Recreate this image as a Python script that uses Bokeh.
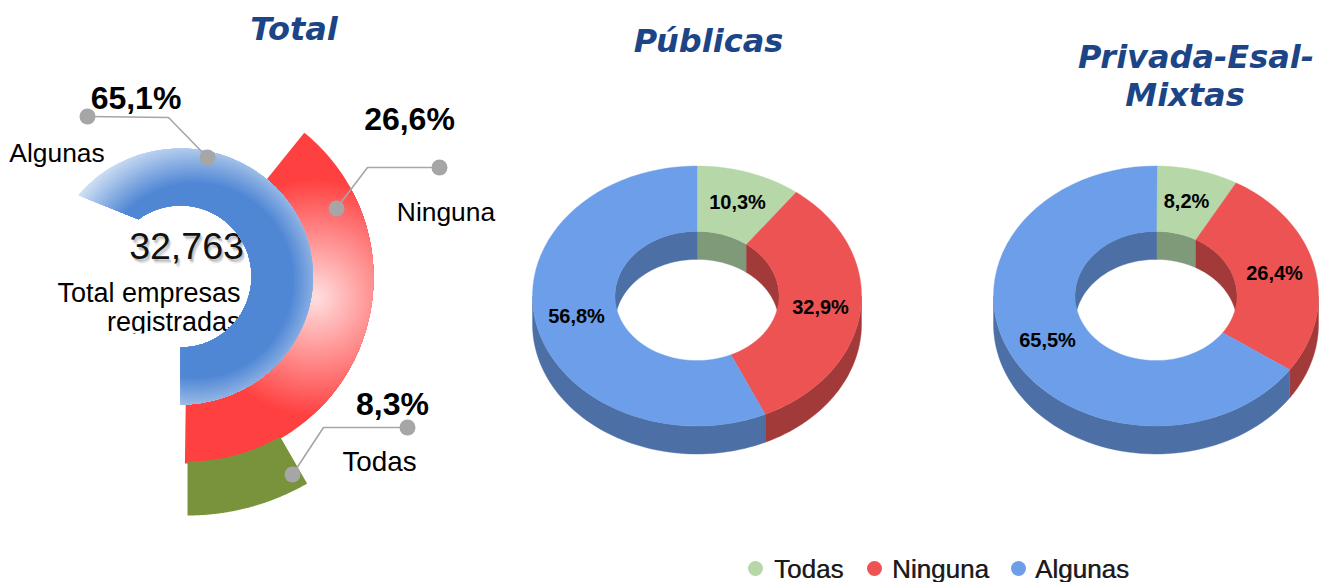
import math
from bokeh.plotting import figure
from bokeh.models import Range1d
from bokeh.core.properties import value
from bokeh.embed import file_html
from bokeh.resources import INLINE

# ---- data ----
total_categories = ["Algunas", "Ninguna", "Todas"]
total_values = [65.1, 26.6, 8.3]
total_labels = ["65,1%", "26,6%", "8,3%"]
total_sweep_pct = [65.1, 39.2, 8.3]   # arc length as drawn in the picture
total_count = "32,763"
total_caption = ["Total empresas", "registradas"]

donut_categories = ["Todas", "Ninguna", "Algunas"]
publicas_values = [10.3, 32.9, 56.8]
publicas_labels = ["10,3%", "32,9%", "56,8%"]
privadas_values = [8.2, 26.4, 65.5]
privadas_labels = ["8,2%", "26,4%", "65,5%"]

titles = ["Total", "Públicas", "Privada-Esal-", "Mixtas"]

# ---- page geometry (page pixels; y measured from the top) ----
W, H = 1325, 582
def Y(py):
    return H - py

p = figure(width=W, height=H, x_range=Range1d(0, W), y_range=Range1d(0, H),
           output_backend="svg", toolbar_location=None, min_border=0,
           outline_line_color=None, background_fill_color="white", border_fill_color="white")
p.axis.visible = False
p.grid.visible = False

ARIAL = value("Liberation Sans")
TITLE = value("DejaVu Sans")

def lerp(a, b, t):
    return a + (b - a) * t

def hexc(r, g, b):
    return "#%02x%02x%02x" % (round(r), round(g), round(b))

def poly(pts, col, lw=0.4):
    if len(pts) < 3:
        return
    p.patch([q[0] for q in pts], [Y(q[1]) for q in pts], fill_color=col,
            line_color=col if lw else None, line_width=lw or 1)

# --- radial gradient painted as shrinking clips of a shape ---
def clip_to_disk(shape, cx, cy, rad, n=96):
    """Sutherland-Hodgman against a regular n-gon round (cx, cy)."""
    out = shape
    for k in range(n):
        a0 = 2 * math.pi * k / n
        a1 = 2 * math.pi * (k + 1) / n
        ax, ay = cx + rad * math.cos(a0), cy + rad * math.sin(a0)
        bx, by = cx + rad * math.cos(a1), cy + rad * math.sin(a1)
        def side(q):
            return (bx - ax) * (q[1] - ay) - (by - ay) * (q[0] - ax)
        res = []
        for i, q in enumerate(out):
            prev = out[i - 1]
            sq, sp = side(q), side(prev)
            if (sq >= 0) != (sp >= 0):
                t = sp / (sp - sq)
                res.append((prev[0] + (q[0] - prev[0]) * t, prev[1] + (q[1] - prev[1]) * t))
            if sq >= 0:
                res.append(q)
        out = res
        if not out:
            break
    return out

def gradient_fill(shape, gx, gy, d_start, d_end, levels, col_fn):
    """col_fn(d) is the colour at distance d from the gradient's centre."""
    poly(shape, col_fn(d_start), lw=0)
    for k in range(1, levels + 1):
        d = lerp(d_start, d_end, k / levels)
        poly(clip_to_disk(shape, gx, gy, d), col_fn(d), lw=0)

def red_col(d):
    g = lerp(225, 64, min(d / 120, 1))
    return hexc(255, g, g)

def blue_col(d):
    t = max(min((d - 98) / 48, 1), 0)
    return hexc(lerp(0x50, 0xd3, t), lerp(0x87, 0xe2, t), lerp(0xd5, 0xf4, t))

def ccw_point(cx, cy, rx, ry, sweep):
    """point reached going counter-clockwise from 6 o'clock"""
    t = math.radians(sweep)
    return (cx + rx * math.sin(t), cy + ry * math.cos(t))

def ring_shape(cx, cy, orx, ory, irx, iry, s_start, s_outer, s_inner, n=110):
    pts = [ccw_point(cx, cy, orx, ory, lerp(s_start, s_outer, i / n)) for i in range(n + 1)]
    pts += [ccw_point(cx, cy, irx, iry, lerp(s_inner, s_start, i / n)) for i in range(n + 1)]
    return pts

# ---- left chart: radial rings ----
red_sweep = total_sweep_pct[1] * 3.6
gradient_fill(ring_shape(187, 277, 186, 186, 118, 118, -0.8, red_sweep, red_sweep),
              315, 297, 120, 3, 42, red_col)

green_sweep = total_sweep_pct[2] * 3.6
poly(ring_shape(187, 275, 240, 240, 186, 186, 0, green_sweep, green_sweep), "#78933c", lw=0)

# centre text sits behind the blue ring
for off, al in [((2, 3), 0.10), ((1, 2), 0.14), ((3, 4), 0.07), ((2, 5), 0.05)]:
    p.text([186 + off[0]], [Y(245 + off[1])], [total_count], text_font=ARIAL, text_font_size="37.5px",
           text_align="center", text_baseline="middle", text_color="#000000", text_alpha=al)
p.text([186], [Y(245)], [total_count], text_font=ARIAL, text_font_size="37.5px",
       text_align="center", text_baseline="middle", text_color="#111111")
p.text([240, 240], [Y(292), Y(321)], total_caption, text_font=ARIAL, text_font_size="27px",
       text_align="right", text_baseline="middle", text_color="#000000")
p.quad(left=[95], right=[245], top=[Y(333)], bottom=[Y(350)], fill_color="white", line_color=None)

# blue: slightly wider than tall, its free end is cut at a slant
blue_sweep = total_sweep_pct[0] * 3.6
gradient_fill(ring_shape(180, 276, 132.5, 128, 71, 71, 0, blue_sweep - 3.8, blue_sweep - 18),
              195, 280, 146, 98, 30, blue_col)

# callouts
GR = "#a6a6a6"
p.line([87, 168, 207], [Y(116), Y(117), Y(157)], line_color=GR, line_width=1.6)
p.line([439, 367, 336], [Y(167), Y(167), Y(208)], line_color=GR, line_width=1.6)
p.line([407, 323, 292], [Y(427), Y(427), Y(474)], line_color=GR, line_width=1.6)
p.scatter([87, 207, 439, 336, 407, 292],
          [Y(116), Y(157), Y(167), Y(208), Y(427), Y(474)],
          size=16, marker="circle", fill_color=GR, line_color=None)

p.text([135.5, 409, 392], [Y(97), Y(118), Y(403)], total_labels, text_font=ARIAL, text_font_style="bold",
       text_font_size="32px", text_align="center", text_baseline="middle", text_color="#000000")
p.text([56.5, 445.5], [Y(152), Y(211)], total_categories[:2], text_font=ARIAL, text_font_size="26.4px",
       text_align="center", text_baseline="middle", text_color="#000000")
p.text([379], [Y(461)], total_categories[2:], text_font=ARIAL, text_font_size="27.8px",
       text_align="center", text_baseline="middle", text_color="#000000")

# ---- 3D donuts ----
TOPS = ["#b6d7a8", "#ee5353", "#6c9ee9"]
WALLS = ["#7e9a78", "#a33a3a", "#4c6fa5"]

def arc(cx, cy, rx, ry, a, b, n=60):
    pts = []
    for i in range(n + 1):
        t = math.radians(lerp(a, b, i / n))
        pts.append((cx + rx * math.sin(t), cy - ry * math.cos(t)))
    return pts

def wall(cx, cy, rx, ry, depth, a, b, col):
    top = arc(cx, cy, rx, ry, a, b)
    bot = [(x, y + depth) for x, y in top]
    poly(top + bot[::-1], col)

def donut(cx, cy, rx, ry, irx, iry, depth, values):
    edges = [0]
    for v in values:
        edges.append(edges[-1] + v * 3.6)
    for i in range(3):
        a, b = edges[i], edges[i + 1]
        lo, hi = max(a, 90), min(b, 270)
        if lo < hi:
            wall(cx, cy, rx, ry, depth, lo, hi, WALLS[i])
        if a < 90:
            wall(cx, cy, irx, iry, depth, a, min(b, 90), WALLS[i])
        if b > 270:
            wall(cx, cy, irx, iry, depth, max(a, 270), b, WALLS[i])
    for i in range(3):
        a, b = edges[i], edges[i + 1]
        poly(arc(cx, cy, rx, ry, a, b) + arc(cx, cy, irx, iry, a, b)[::-1], TOPS[i])

donut(696.5, 295.5, 164.5, 130, 82, 64.6, 28, publicas_values)
donut(1155.5, 295.5, 162.5, 130, 81, 64.6, 28, privadas_values)

p.text([737, 820, 576], [Y(201), Y(306), Y(315)], publicas_labels, text_font=ARIAL, text_font_style="bold",
       text_font_size="20px", text_align="center", text_baseline="middle", text_color="#000000")
p.text([1186, 1274, 1047], [Y(200), Y(272), Y(339)], privadas_labels, text_font=ARIAL, text_font_style="bold",
       text_font_size="20px", text_align="center", text_baseline="middle", text_color="#000000")

# ---- titles ----
p.text([293.5, 708, 1195.5, 1184.5], [Y(28), Y(40), Y(56), Y(94.5)], titles, text_font=TITLE,
       text_font_style="bold italic", text_font_size="32px", text_align="center",
       text_baseline="middle", text_color="#1c4587")

# ---- legend ----
p.scatter([755, 874, 1018], [Y(568)] * 3, size=15, marker="circle", fill_color=TOPS, line_color=None)
for dx, al in [(0, 1.0), (0.6, 0.7)]:
    p.text([773.5 + dx, 891.5 + dx, 1034.5 + dx], [Y(568)] * 3, donut_categories, text_font=ARIAL,
           text_font_size="26px", text_align="left", text_baseline="middle",
           text_color="#1a1a1a", text_alpha=al)

open("out.html", "w").write(file_html(p, INLINE))
